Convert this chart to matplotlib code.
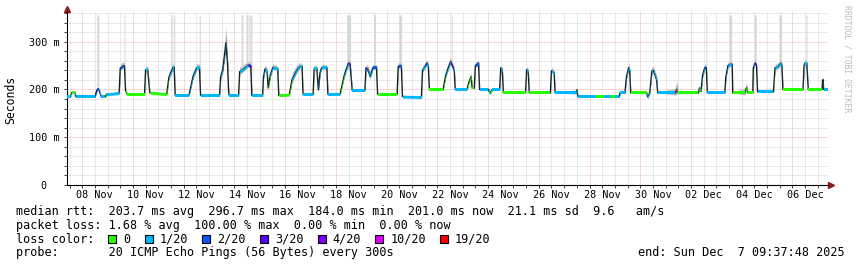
import matplotlib
matplotlib.use("Agg")
import matplotlib.pyplot as plt
import matplotlib.dates as mdates
import matplotlib.transforms as mtransforms
from matplotlib.patches import Rectangle
from matplotlib.ticker import FixedLocator, MultipleLocator
import numpy as np
import pandas as pd

# median rtt (ms), with loss count (of 20) and smoke spread
times = [
    "11-07 09:40", "11-07 13:00", "11-07 14:00", "11-07 17:00", "11-07 18:00",
    "11-08 12:00", "11-08 14:00", "11-08 16:00", "11-08 18:00", "11-08 22:00",
    "11-08 23:00", "11-09 10:00", "11-09 11:00", "11-09 12:00", "11-09 14:30",
    "11-09 16:00", "11-09 17:00", "11-09 18:30", "11-10 11:00", "11-10 12:00",
    "11-10 14:00", "11-10 16:00", "11-11 08:00", "11-11 10:00", "11-11 14:00",
    "11-11 15:00", "11-11 16:00", "11-12 05:00", "11-12 09:00", "11-12 12:30",
    "11-12 15:00", "11-12 16:00", "11-13 10:00", "11-13 11:00", "11-13 13:00",
    "11-13 16:00", "11-13 17:30", "11-13 18:30", "11-13 19:00", "11-14 04:00",
    "11-14 05:00", "11-14 09:00", "11-14 13:00", "11-14 15:30", "11-14 16:30",
    "11-15 02:45", "11-15 03:30", "11-15 05:00", "11-15 07:00", "11-15 08:00",
    "11-15 10:00", "11-15 12:30", "11-15 17:00", "11-15 18:00", "11-16 04:00",
    "11-16 06:30", "11-16 11:00", "11-16 14:00", "11-16 16:00", "11-16 17:00",
    "11-17 02:30", "11-17 03:30", "11-17 06:00", "11-17 07:30", "11-17 09:00",
    "11-17 10:30", "11-17 15:30", "11-17 16:30", "11-18 04:00", "11-18 08:00",
    "11-18 12:00", "11-18 13:30", "11-18 15:30", "11-19 03:30", "11-19 04:30",
    "11-19 06:30", "11-19 08:30", "11-19 11:00", "11-19 14:30", "11-19 15:30",
    "11-20 10:00", "11-20 11:00", "11-20 12:30", "11-20 14:00", "11-20 15:00",
    "11-21 09:00", "11-21 10:00", "11-21 13:00", "11-21 14:00", "11-21 15:30",
    "11-21 16:30", "11-22 05:30", "11-22 08:00", "11-22 12:30", "11-22 15:00",
    "11-22 16:00", "11-22 17:00", "11-23 04:00", "11-23 06:00", "11-23 08:00",
    "11-23 09:00", "11-23 11:00", "11-23 12:00", "11-23 15:00", "11-23 16:00",
    "11-24 00:15", "11-24 02:00", "11-24 04:00", "11-24 11:00", "11-24 12:00",
    "11-24 13:30", "11-24 14:30", "11-25 11:30", "11-25 12:30", "11-25 14:00",
    "11-25 15:00", "11-26 11:00", "11-26 12:00", "11-26 14:30", "11-26 15:30",
    "11-27 11:00", "11-27 12:00", "11-27 13:00", "11-28 06:00", "11-28 14:00",
    "11-28 20:00", "11-29 00:00", "11-29 04:00", "11-29 05:00",
    "11-29 09:30", "11-29 11:00", "11-29 13:00", "11-29 14:00", "11-29 15:00",
    "11-30 06:00", "11-30 07:00", "11-30 09:00", "11-30 11:00", "11-30 12:30",
    "11-30 15:30", "11-30 16:30", "12-01 09:00", "12-01 10:30", "12-01 12:00",
    "12-02 07:00", "12-02 08:00", "12-02 09:30", "12-02 11:00", "12-02 13:00",
    "12-02 14:30", "12-02 15:30", "12-03 08:00", "12-03 09:00", "12-03 11:00",
    "12-03 14:00", "12-03 15:00", "12-03 15:30", "12-04 03:00", "12-04 04:30",
    "12-04 06:00", "12-04 10:30", "12-04 11:00", "12-04 12:30", "12-04 14:00",
    "12-04 15:00", "12-05 06:00", "12-05 07:30", "12-05 10:30", "12-05 13:00",
    "12-05 14:00", "12-05 15:00", "12-06 10:00", "12-06 11:00", "12-06 12:00",
    "12-06 13:30", "12-06 15:00", "12-07 04:00", "12-07 04:30", "12-07 05:00",
    "12-07 05:30", "12-07 09:35",
]
median_ms = [
    185, 185, 193, 193, 185, 185, 199, 199, 185, 185,
    190, 192, 193, 244, 249, 249, 199, 190, 190, 241,
    241, 193, 190, 225, 246, 246, 188, 188, 228, 245,
    245, 188, 188, 226, 241, 297, 255, 199, 188, 188,
    237, 243, 251, 249, 188, 188, 226, 243, 236, 203,
    230, 246, 243, 188, 189, 220, 240, 248, 248, 190,
    190, 243, 243, 199, 235, 245, 245, 190, 190, 230,
    255, 252, 198, 198, 245, 240, 227, 245, 245, 190,
    190, 248, 250, 248, 185, 184, 240, 250, 255, 250,
    200, 200, 230, 258, 245, 240, 200, 200, 216, 226,
    203, 203, 250, 255, 200, 200, 192, 200, 200, 245,
    240, 193, 193, 241, 238, 193, 193, 239, 235, 193,
    193, 199, 185, 185, 185, 185, 185, 185, 193,
    193, 227, 245, 240, 193,
    193, 184, 193, 239, 239, 220, 193, 193, 199, 193,
    193, 203, 196, 230, 245, 245, 193, 193, 226, 250,
    253, 250, 193, 193, 203, 193, 193, 245, 255, 250,
    195, 195, 245, 248, 255, 250, 200, 200, 250, 255,
    255, 200, 200, 220, 220, 200, 200,
]
loss = [
    1, 0, 0, 1, 1, 2, 2, 1, 1, 0,
    1, 1, 1, 2, 2, 1, 0, 0, 1, 1,
    0, 0, 0, 1, 1, 1, 1, 1, 1, 1,
    1, 1, 1, 1, 1, 1, 1, 0, 1, 0,
    1, 1, 3, 3, 1, 1, 1, 1, 1, 0,
    1, 1, 1, 0, 0, 1, 1, 1, 1, 1,
    0, 1, 1, 1, 1, 1, 1, 1, 0, 1,
    4, 1, 1, 1, 2, 1, 1, 2, 1, 0,
    1, 2, 2, 1, 1, 1, 1, 2, 1, 1,
    0, 0, 1, 3, 1, 1, 1, 0, 0, 0,
    0, 1, 2, 1, 1, 1, 0, 1, 1, 1,
    1, 0, 1, 1, 1, 0, 1, 1, 1, 1,
    1, 1, 1, 0, 1, 0, 1, 1, 1,
    1, 1, 1, 1, 0,
    1, 1, 1, 1, 1, 1, 1, 10, 0, 0,
    0, 0, 1, 1, 2, 1, 1, 1, 1, 1,
    2, 1, 0, 0, 0, 0, 1, 1, 3, 1,
    1, 0, 1, 1, 1, 1, 0, 1, 1, 1,
    1, 0, 0, 1, 1, 1, 1,
]
smoke_ms = [
    1, 1, 4, 4, 1, 2, 4, 3, 1, 1,
    1, 2, 6, 10, 8, 8, 4, 1, 1, 8,
    8, 2, 2, 12, 10, 8, 1, 2, 12, 10,
    8, 1, 4, 10, 15, 35, 15, 5, 1, 2,
    10, 10, 8, 8, 1, 2, 8, 8, 10, 6,
    10, 8, 6, 1, 2, 14, 12, 8, 6, 1,
    2, 8, 8, 8, 10, 8, 6, 1, 2, 12,
    10, 8, 1, 2, 8, 10, 12, 8, 6, 1,
    2, 8, 8, 6, 1, 2, 8, 8, 8, 6,
    1, 2, 12, 10, 8, 6, 1, 3, 10, 10,
    4, 4, 8, 6, 1, 4, 4, 2, 2, 8,
    6, 1, 2, 8, 6, 1, 2, 8, 6, 1,
    6, 6, 1, 1, 1, 1, 1, 2, 2,
    4, 12, 12, 8, 1,
    2, 2, 2, 8, 10, 10, 1, 10, 20, 4,
    4, 6, 6, 10, 8, 6, 1, 4, 10, 8,
    8, 6, 1, 10, 12, 2, 2, 8, 8, 6,
    1, 2, 8, 8, 8, 6, 1, 2, 8, 8,
    6, 1, 2, 8, 4, 1, 1,
]

# intervals where some pings went off the top of the graph
spike_start = ["11-08 13:40", "11-09 15:30", "11-11 11:45", "11-11 14:15",
               "11-12 14:45", "11-14 06:15", "11-14 11:00", "11-14 13:00",
               "11-14 14:45", "11-18 10:15", "11-19 12:00", "11-20 11:45",
               "11-22 13:00", "12-02 14:00", "12-03 12:00", "12-04 11:45",
               "12-05 11:15", "12-06 12:45"]
spike_end = ["11-08 15:50", "11-09 16:30", "11-11 13:00", "11-11 15:30",
             "11-12 15:45", "11-14 08:00", "11-14 12:30", "11-14 14:00",
             "11-14 16:30", "11-18 14:00", "11-19 14:00", "11-20 14:15",
             "11-22 14:00", "12-02 15:00", "12-03 14:30", "12-04 13:45",
             "12-05 13:45", "12-06 13:45"]
spike_top_ms = 356

loss_levels = [0, 1, 2, 3, 4, 10, 19]
loss_labels = ["0", "1/20", "2/20", "3/20", "4/20", "10/20", "19/20"]
loss_colors = ["#26ff00", "#00b8ff", "#0059ff", "#5e00ff", "#7e00ff", "#dd00ff", "#ff0000"]

rtt_line = "median rtt:  203.7 ms avg  296.7 ms max  184.0 ms min  201.0 ms now  21.1 ms sd  9.6   am/s"
loss_line = "packet loss: 1.68 % avg  100.00 % max  0.00 % min  0.00 % now"
probe_line = "probe:       20 ICMP Echo Pings (56 Bytes) every 300s"
end_line = "end: Sun Dec  7 09:37:48 2025"
start_time = "2025-11-07 09:37:48"
end_time = "2025-12-07 09:37:48"

W, H = 857, 267
mono = "DejaVu Sans Mono"
fig = plt.figure(figsize=(W / 100, H / 100), dpi=100, facecolor="white")
ax = fig.add_axes([67 / W, 1 - 185 / H, 761 / W, 173 / H])

x = mdates.date2num(pd.to_datetime(["2025-" + s for s in times]))
med = np.array(median_ms, float)
sm = np.array(smoke_ms, float)

# tall light columns
for s, e in zip(spike_start, spike_end):
    xs = mdates.date2num(pd.to_datetime(["2025-" + s, "2025-" + e]))
    base = np.interp(xs, x, med)
    ax.fill_between(xs, base, spike_top_ms, color="#d8d8d8", lw=0, zorder=1)

# smoke
ax.fill_between(x, med - 0.5 * sm, med + sm, color="#c8c8c8", lw=0, zorder=2)
ax.fill_between(x, med - 0.2 * sm, med + 0.45 * sm, color="#888888", lw=0, zorder=2)

# median line
ax.plot(x, med, color="#1a1a1a", lw=1.0, zorder=3)

# loss coloured band around the median
col_of = dict(zip(loss_levels, loss_colors))
for i in range(len(x) - 1):
    ax.fill_between(x[i:i + 2], med[i:i + 2] - 3, med[i:i + 2] + 3,
                    color=col_of[loss[i]], lw=0, zorder=4)

ax.set_xlim(mdates.date2num(pd.Timestamp(start_time)), mdates.date2num(pd.Timestamp(end_time)))
ax.set_ylim(0, 362)

major_days = pd.date_range("2025-11-08", "2025-12-06", freq="2D")
ax.xaxis.set_major_locator(FixedLocator(mdates.date2num(major_days)))
ax.xaxis.set_minor_locator(FixedLocator(mdates.date2num(
    pd.date_range("2025-11-07 12:00", "2025-12-07 00:00", freq="12h"))))
ax.set_yticks([0, 100, 200, 300], ["0  ", "100 m", "200 m", "300 m"])
ax.yaxis.set_minor_locator(MultipleLocator(20))

# dotted rrdtool-style grid
ax.grid(which="major", color="#efb4b4", ls=(0, (1, 1)), lw=0.72)
ax.grid(which="minor", color="#d6d6d6", ls=(0, (1, 1)), lw=0.72)
ax.set_axisbelow(True)

ax.tick_params(which="both", length=2, width=0.7, color="#404040")
ax.tick_params(axis="x", labelbottom=False)
ax.tick_params(axis="y", pad=3.6, labelsize=7.3)
for lab in ax.get_yticklabels():
    lab.set_family(mono)

for sp in ["top", "right"]:
    ax.spines[sp].set_visible(False)
for sp in ["left", "bottom"]:
    ax.spines[sp].set_linewidth(0.8)

# axis arrows
arrow_col = "#8b1a1a"
ax.plot([0, 0], [1, 1 + 3 / 173], color="black", lw=0.8, transform=ax.transAxes, clip_on=False)
ax.plot([0], [1 + 3 / 173], marker="^", ms=4, color=arrow_col, transform=ax.transAxes, clip_on=False)
ax.plot([1, 1 + 3 / 761], [0, 0], color="black", lw=0.8, transform=ax.transAxes, clip_on=False)
ax.plot([1 + 3 / 761], [0], marker=">", ms=4, color=arrow_col, transform=ax.transAxes, clip_on=False)

# date labels centred on the middle of the day
blend = mtransforms.blended_transform_factory(ax.transData, ax.transAxes)
for d in major_days:
    ax.text(mdates.date2num(d + pd.Timedelta(hours=12)), -10.5 / 173, d.strftime("%d %b"),
            transform=blend, ha="center", va="center", fontsize=7.3, family=mono)

fig.text(10.5 / W, 1 - 99.5 / H, "Seconds", rotation=90, ha="center", va="center",
         fontsize=8.3, family=mono)
fig.text(847 / W, 1 - 59 / H, "RRDTOOL / TOBI OETIKER", rotation=270, ha="center",
         va="center", fontsize=5.9, family=mono, color="#bdbdbd")

# legend block
fs = 8.5
char_px = fs * 100 / 72 * 0.602
fig.text(16 / W, 1 - 215.3 / H, rtt_line, va="baseline", fontsize=fs, family=mono)
fig.text(16 / W, 1 - 229 / H, loss_line, va="baseline", fontsize=fs, family=mono)
fig.text(16 / W, 1 - 242.7 / H, "loss color:", va="baseline", fontsize=fs, family=mono)
fig.text(16 / W, 1 - 256.4 / H, probe_line, va="baseline", fontsize=fs, family=mono)
fig.text(638.3 / W, 1 - 256.4 / H, end_line, va="baseline", fontsize=fs, family=mono)

bx = 16 + 13 * char_px
for lab, c in zip(loss_labels, loss_colors):
    fig.patches.append(Rectangle((bx / W, 1 - 243 / H), 8 / W, 8 / H, transform=fig.transFigure,
                                 facecolor=c, edgecolor="black", lw=0.8))
    tx = bx + 15
    fig.text(tx / W, 1 - 242.7 / H, lab, va="baseline", fontsize=fs, family=mono)
    bx = tx + (len(lab) + 2) * char_px

fig.savefig("out.png", dpi=100, facecolor="white")
